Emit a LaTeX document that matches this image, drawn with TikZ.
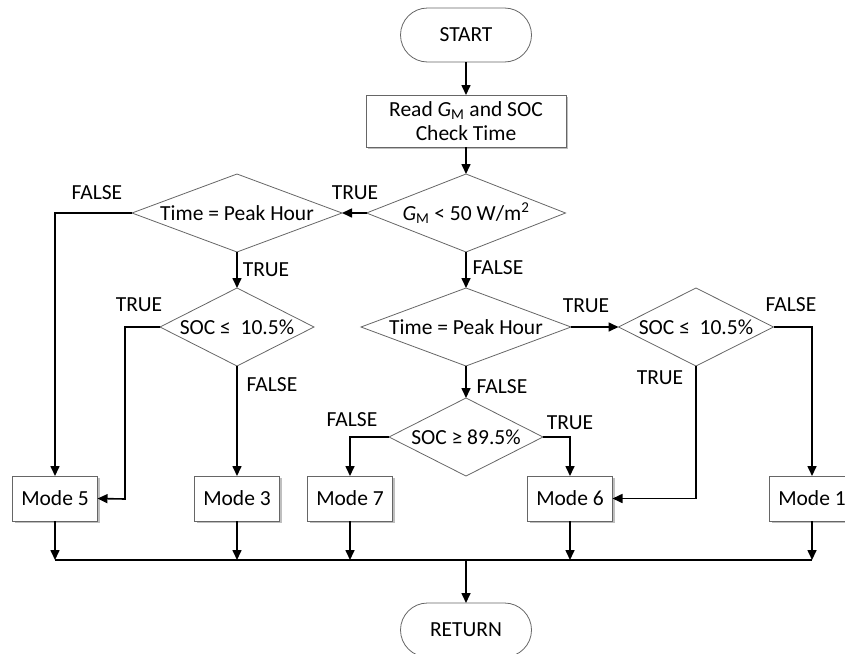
\documentclass[tikz,border=0pt]{standalone}
\usepackage{fontspec}
\setmainfont{Carlito}
\usetikzlibrary{shapes.geometric,shapes.misc,arrows.meta,shadows}
\begin{document}
\begin{tikzpicture}[x=1pt,y=-1pt,
  every node/.style={inner sep=0pt, outer sep=0pt, font=\fontsize{21.5}{24}\selectfont},
  term/.style={rounded rectangle, draw=black!60, line width=0.8pt, minimum width=131pt, minimum height=54pt},
  procbox/.style={rectangle, draw=black!60, line width=0.8pt, fill=white,
    drop shadow={shadow xshift=2pt, shadow yshift=-2pt, fill=black!25, opacity=1}},
  modebox/.style={procbox, minimum width=85pt, minimum height=45pt},
  decide/.style={diamond, draw=black!60, line width=0.8pt, minimum height=78pt},
  conn/.style={line width=1.6pt, -{Triangle[length=10pt,width=9pt]}},
  bus/.style={line width=1.6pt},
  lbl/.style={}
]
\path[use as bounding box] (0,0) rectangle (845,653);
\clip (0,0) rectangle (845,653);

% terminals and process
\node[term] (start) at (466,35) {START};
\node[procbox, minimum width=200pt, minimum height=52pt, align=center] (read) at (466,121)
  {Read {\itshape G}\textsubscript{M} and SOC\\Check Time};

% decisions
\node[decide, minimum width=199pt] (d1) at (466,213) {\makebox[0pt]{{\itshape G}\textsubscript{M} < 50 W/m\textsuperscript{2}}};
\node[decide, minimum width=210pt] (d2) at (237,213) {\makebox[0pt]{Time = Peak Hour}};
\node[decide, minimum width=154pt] (d3) at (237,327) {\makebox[0pt]{SOC ≤\ \ 10.5\%}};
\node[decide, minimum width=210pt] (d4) at (466,327) {\makebox[0pt]{Time = Peak Hour}};
\node[decide, minimum width=155pt] (d5) at (696,327) {\makebox[0pt]{SOC ≤\ \ 10.5\%}};
\node[decide, minimum width=154pt] (d6) at (466,437) {\makebox[0pt]{SOC ≥ 89.5\%}};

% modes
\node[modebox] (m5) at (55,498.5) {Mode 5};
\node[modebox] (m3) at (237,498.5) {Mode 3};
\node[modebox] (m7) at (350,498.5) {Mode 7};
\node[modebox] (m6) at (570,498.5) {Mode 6};
\node[modebox] (m1) at (812,498.5) {Mode 1};

\node[term] (ret) at (466,630) {RETURN};

% helper coordinates
\coordinate (t3) at (125,499);
\coordinate (bl) at (55,560);
\coordinate (br) at (812,560);

% connectors
\draw[conn] (start) -- (read);
\draw[conn] (read) -- (d1);
\draw[conn] (d1.west) -- (d2.east);
\draw[conn] (d1.south) -- (d4.north);
\draw[conn] (d2.west) -| (m5.north);
\draw[conn] (d2.south) -- (d3.north);
\draw[conn] (d3.west) -| (t3) -- (m5.east);
\draw[conn] (d3.south) -- (m3.north);
\draw[conn] (d4.east) -- (d5.west);
\draw[conn] (d4.south) -- (d6.north);
\draw[conn] (d5.east) -| (m1.north);
\draw[conn] (d5.south) |- (m6.east);
\draw[conn] (d6.west) -| (m7.north);
\draw[conn] (d6.east) -| (m6.north);

\draw[bus] (bl) -- (br);
\foreach \m in {m5,m3,m7,m6,m1}{
  \draw[conn] (\m.south) -- (\m.south |- bl);
}
\draw[conn] (ret.north |- bl) -- (ret.north);

% labels
\node[lbl] (l1) at (355,193) {TRUE};
\node[lbl] (l2) at (97,193) {FALSE};
\node[lbl] (l3) at (266,270) {TRUE};
\node[lbl] (l4) at (498,268) {FALSE};
\node[lbl] (l5) at (139,305) {TRUE};
\node[lbl] (l6) at (272,385) {FALSE};
\node[lbl] (l7) at (586,306) {TRUE};
\node[lbl] (l8) at (502,387) {FALSE};
\node[lbl] (l9) at (791,305) {FALSE};
\node[lbl] (l10) at (660,378) {TRUE};
\node[lbl] (l11) at (352,420) {FALSE};
\node[lbl] (l12) at (570,423) {TRUE};
\end{tikzpicture}
\end{document}
